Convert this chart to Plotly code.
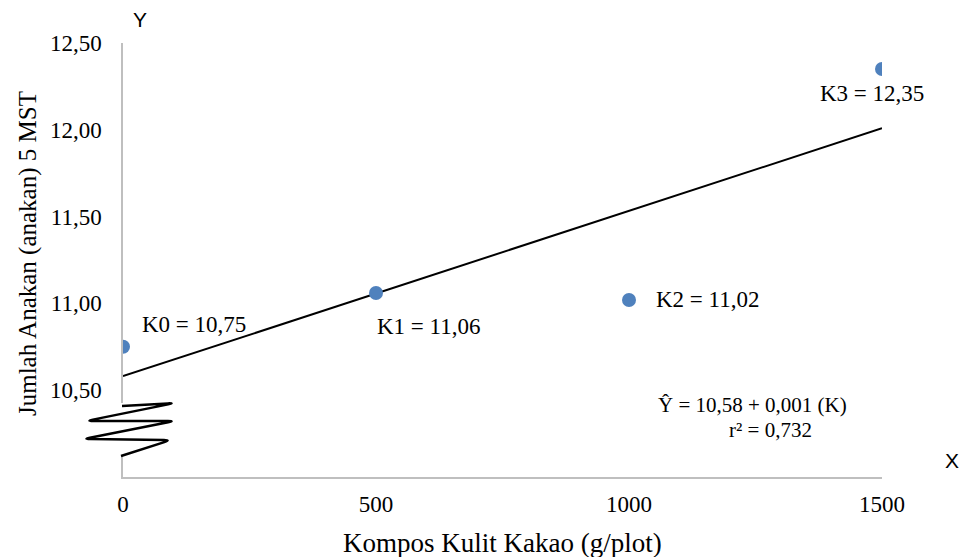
import numpy as np
import plotly.graph_objects as go

# ---- data ----
treatments = ["K0", "K1", "K2", "K3"]
doses = [0, 500, 1000, 1500]          # g/plot
tillers = [10.75, 11.06, 11.02, 12.35]  # Jumlah anakan 5 MST
y_ticks = [10.5, 11.0, 11.5, 12.0, 12.5]
x_ticks = [0, 500, 1000, 1500]
eq_line1 = "Ŷ = 10,58 + 0,001 (K)"
eq_line2 = "r² = 0,732"

# layout geometry (pixels)
W, H = 963, 557
ML, MR, MT, MB = 123, 81, 43, 80
PW, PH = W - ML - MR, H - MT - MB

def px(x):
    return (x - ML) / PW

def py(y):
    return (H - MB - y) / PH

SERIF = "Liberation Serif"
SANS = "Liberation Sans"

# least-squares trend line computed from the data
slope, intercept = np.polyfit(doses, tillers, 1)
xl = np.array([doses[0], doses[-1]])
yl = intercept + slope * xl

fig = go.Figure()
fig.add_trace(go.Scatter(x=xl, y=yl, mode="lines",
                         line=dict(color="black", width=2), hoverinfo="skip",
                         showlegend=False))
fig.add_trace(go.Scatter(x=doses, y=tillers, mode="markers",
                         marker=dict(color="#4F81BD", size=14), showlegend=False))

def fmt(v):
    return f"{v:.2f}".replace(".", ",")

# point labels: (xanchor, xshift, yshift)
label_pos = [("left", 17, 22), ("left", -1, -34), ("left", 25, 0), ("center", -10, -24)]
for t, x, y, (xa, xs, ys) in zip(treatments, doses, tillers, label_pos):
    fig.add_annotation(x=x, y=y, xref="x", yref="y", text=f"{t} = {fmt(y)}",
                       showarrow=False, xanchor=xa, yanchor="middle",
                       xshift=xs, yshift=ys,
                       font=dict(family=SERIF, size=23, color="black"))

# equation
fig.add_annotation(x=px(752), y=py(405), xref="paper", yref="paper", text=eq_line1,
                   showarrow=False, xanchor="center", yanchor="middle",
                   font=dict(family=SERIF, size=21, color="black"))
fig.add_annotation(x=px(770), y=py(430), xref="paper", yref="paper", text=eq_line2,
                   showarrow=False, xanchor="center", yanchor="middle",
                   font=dict(family=SERIF, size=21, color="black"))

# axis titles
fig.add_annotation(x=px(28), y=py(254), xref="paper", yref="paper",
                   text="Jumlah Anakan (anakan) 5 MST", textangle=-90,
                   showarrow=False, xanchor="center", yanchor="middle",
                   font=dict(family=SERIF, size=25, color="black"))
fig.add_annotation(x=px(502), y=py(543), xref="paper", yref="paper",
                   text="Kompos Kulit Kakao (g/plot)",
                   showarrow=False, xanchor="center", yanchor="middle",
                   font=dict(family=SERIF, size=27, color="black"))
# axis letters
fig.add_annotation(x=px(140), y=py(20), xref="paper", yref="paper", text="Y",
                   showarrow=False, xanchor="center", yanchor="middle",
                   font=dict(family=SANS, size=21, color="black"))
fig.add_annotation(x=px(952), y=py(460), xref="paper", yref="paper", text="X",
                   showarrow=False, xanchor="center", yanchor="middle",
                   font=dict(family=SANS, size=21, color="black"))

# axis break: blank out part of the y axis line and draw a zigzag
fig.add_shape(type="rect", xref="paper", yref="paper",
              x0=px(119), x1=px(127), y0=py(456), y1=py(403),
              fillcolor="white", line=dict(width=0), layer="above")

pts = [(122, 406), (175, 403), (86, 421), (175, 421), (83, 439), (171, 440), (121, 456)]

def P(p):
    return f"{px(p[0]):.5f},{py(p[1]):.5f}"

path = "M " + P(pts[0])
for i in range(1, len(pts) - 1):
    a, b, c = np.array(pts[i - 1], float), np.array(pts[i], float), np.array(pts[i + 1], float)
    d1 = (a - b) / np.linalg.norm(a - b) * 7
    d2 = (c - b) / np.linalg.norm(c - b) * 7
    path += " L " + P(b + d1) + " Q " + P(b) + " " + P(b + d2)
path += " L " + P(pts[-1])
fig.add_shape(type="path", xref="paper", yref="paper", path=path,
              line=dict(color="black", width=2.5), layer="above")

fig.update_layout(
    width=W, height=H, margin=dict(l=ML, r=MR, t=MT, b=MB),
    paper_bgcolor="white", plot_bgcolor="white", separators=",.",
    showlegend=False,
    xaxis=dict(range=[0, 1500], tickvals=x_ticks, showgrid=False, zeroline=False,
               showline=True, linecolor="#BFBFBF", linewidth=1.5,
               ticks="outside", ticklen=6, tickcolor="rgba(0,0,0,0)",
               tickfont=dict(family=SERIF, size=23, color="black")),
    yaxis=dict(range=[10, 12.5], tickvals=y_ticks, tickformat=".2f",
               showgrid=False, zeroline=False,
               showline=True, linecolor="#BFBFBF", linewidth=1.5,
               ticks="outside", ticklen=15, tickcolor="rgba(0,0,0,0)",
               tickfont=dict(family=SERIF, size=23, color="black")),
)

fig.write_html("out.html",
               config={"displayModeBar": False},
               post_script="document.body.style.margin='0';"
                           "document.body.style.overflow='hidden';")
